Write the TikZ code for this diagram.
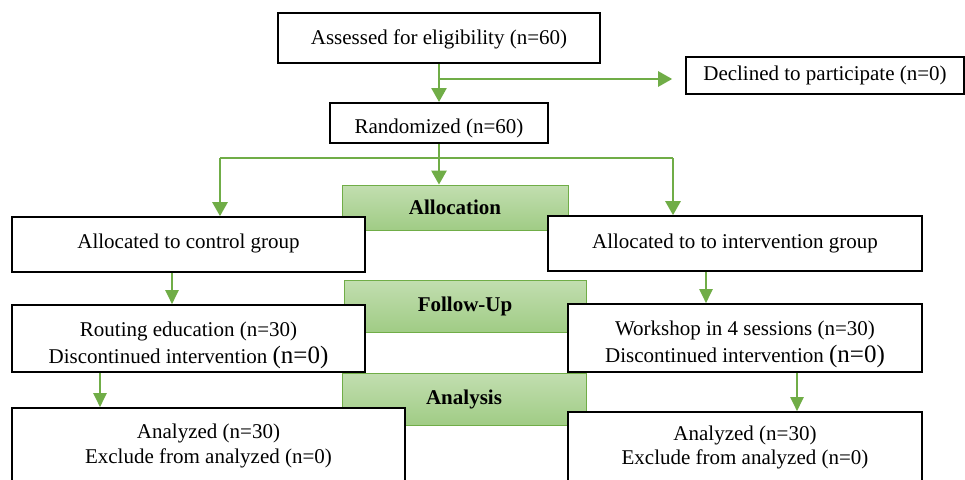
\documentclass[tikz,border=0pt]{standalone}
\usepackage{fontspec}
\setmainfont{Liberation Serif}
\usetikzlibrary{arrows.meta,calc}
\definecolor{flowgreen}{HTML}{70AD47}
\definecolor{lightgreen}{HTML}{C2DEB0}
\definecolor{midgreen}{HTML}{A0CC85}

\tikzset{
  box/.style={draw=black, line width=1.6pt, fill=white, rectangle, inner sep=0pt, align=center},
  stage/.style={draw=flowgreen, line width=0.8pt, top color=lightgreen, bottom color=midgreen, inner sep=0pt, font=\bfseries},
  arr/.style={draw=flowgreen, line width=2.6pt, -{Triangle[width=15pt,length=14pt]}},
  arrthin/.style={draw=flowgreen, line width=2pt, -{Triangle[width=13pt,length=14pt]}},
}

\begin{document}
\begin{tikzpicture}[x=1pt, y=-1pt]
        \fontsize{21}{27}\selectfont
        \useasboundingbox (0,0) rectangle (965,479);
        % stages
        \node[stage, minimum width=226pt, minimum height=45pt] (alloc) at (455,207.5) {Allocation};
        \node[stage, minimum width=242pt, minimum height=52pt] (follow) at (465,306) {Follow-Up};
        \node[stage, minimum width=244pt, minimum height=52pt] (analysis) at (464,399) {Analysis};
        % boxes
        \node[box, line width=2.4pt, minimum width=322pt, text height=31pt, text depth=19pt] (assess) at (439,38) {Assessed for eligibility (n=60)};
        \node[box, minimum width=278pt, text height=23pt, text depth=14pt] (decl) at (825,75.5) {Declined to participate (n=0)};
        \node[box, line width=2pt, minimum width=218pt, text height=30pt, text depth=10pt] (rand) at (439,123) {Randomized (n=60)};
        \node[box, minimum width=353pt, text height=31pt, text depth=24pt] (ctrl) at (188.5,244.5) {Allocated to control group};
        \node[box, minimum width=374pt, text height=32pt, text depth=23pt] (intv) at (735,243.5) {Allocated to to intervention group};
        \node[box, minimum width=353pt, text height=58pt, text depth=9pt] (routing) at (188.5,338.5) {Routing education (n=30)\\Discontinued intervention {\fontsize{25}{27}\selectfont(n=0)}};
        \node[box, minimum width=354pt, text height=58pt, text depth=10pt] (work) at (745,338) {Workshop in 4 sessions (n=30)\\Discontinued intervention {\fontsize{25}{27}\selectfont(n=0)}};
        \node[box, minimum width=393pt, text height=55pt, text depth=23pt, font=\fontsize{21}{25}\selectfont] (anaL) at (208.5,447) {Analyzed (n=30)\\Exclude from analyzed (n=0)};
        \node[box, minimum width=354pt, text height=52pt, text depth=22pt, font=\fontsize{21}{24}\selectfont] (anaR) at (745,449) {Analyzed (n=30)\\Exclude from analyzed (n=0)};
        % connectors
        \coordinate (split) at (439,79);
        \coordinate (forkL) at (220,158);
        \coordinate (forkR) at (673,158);
        \draw[arr] (assess.south) -- (rand.north);
        \draw[arr] (split) -- ([xshift=-13pt]split -| decl.west);
        \draw[arr, -] (forkL) -- (forkR);
        \draw[arr] (rand.south) -- (rand.south |- alloc.north);
        \draw[arr] (forkL) -- (forkL |- ctrl.north);
        \draw[arr] (forkR) -- (forkR |- intv.north);
        \draw[arrthin] ([xshift=-16.5pt]ctrl.south) -- ([xshift=-16.5pt]routing.north);
        \draw[arrthin] ([xshift=-29pt]intv.south) -- ([xshift=-29pt]intv.south |- work.north);
        \draw[arrthin] ([xshift=-88.5pt]routing.south) -- ([xshift=-88.5pt]routing.south |- anaL.north);
        \draw[arrthin] ([xshift=52pt]work.south) -- ([xshift=52pt]work.south |- anaR.north);
        \end{tikzpicture}
\end{document}
